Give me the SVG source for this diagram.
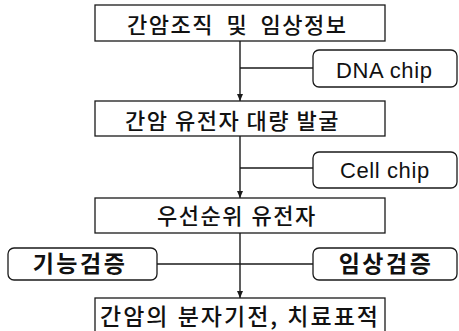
<svg xmlns="http://www.w3.org/2000/svg" width="459" height="331" viewBox="0 0 459 331">
<style>
.box{fill:#fff;stroke:#1a1a1a;stroke-width:1.3}
.rbox{fill:#fff;stroke:#1a1a1a;stroke-width:1.3}
.kt{font-family:"Noto Sans CJK KR","Noto Sans",sans-serif;font-size:22px;font-weight:500;fill:#111;letter-spacing:1.5px;word-spacing:6px}
.kb{font-family:"Noto Sans CJK KR","Noto Sans",sans-serif;font-size:23px;font-weight:bold;fill:#111;letter-spacing:2.5px;text-anchor:middle}
.et{font-family:"Liberation Sans",Arial,sans-serif;font-size:22px;fill:#111;letter-spacing:0.6px}
.ln{stroke:#1a1a1a;stroke-width:1.4;fill:none}
</style>
<defs>
<marker id="ah" markerWidth="8" markerHeight="8" refX="7" refY="4" orient="auto" markerUnits="userSpaceOnUse">
<path d="M0,1 L7,4 L0,7 Z" fill="#1a1a1a"/>
</marker>
</defs>
<g id="connectors">
<line class="ln" x1="240" y1="41" x2="240" y2="101" marker-end="url(#ah)"/>
<line class="ln" x1="240" y1="68" x2="313" y2="68"/>
<line class="ln" x1="240" y1="136" x2="240" y2="198" marker-end="url(#ah)"/>
<line class="ln" x1="240" y1="168" x2="313" y2="168"/>
<line class="ln" x1="240" y1="233" x2="240" y2="298" marker-end="url(#ah)"/>
<line class="ln" x1="157" y1="264" x2="313" y2="264"/>
</g>
<g id="n1">
<rect class="box" x="95" y="5" width="290" height="36"/>
<text class="kt" x="127" y="33">간암조직 및 임상정보</text>
</g>
<g id="n2">
<rect class="rbox" x="313" y="50" width="144" height="37" rx="6"/>
<text class="et" x="336" y="78">DNA chip</text>
</g>
<g id="n3">
<rect class="box" x="95" y="101" width="290" height="35"/>
<text class="kt" x="125" y="129" style="word-spacing:0px">간암 유전자 대량 발굴</text>
</g>
<g id="n4">
<rect class="rbox" x="313" y="152" width="144" height="36" rx="6"/>
<text class="et" x="340" y="178">Cell chip</text>
</g>
<g id="n5">
<rect class="box" x="95" y="198" width="290" height="35"/>
<text class="kt" x="157" y="224" style="word-spacing:1px">우선순위 유전자</text>
</g>
<g id="n6">
<rect class="rbox" x="8" y="248" width="149" height="32" rx="6"/>
<text class="kb" x="80" y="272">기능검증</text>
</g>
<g id="n7">
<rect class="rbox" x="313" y="248" width="144" height="32" rx="6"/>
<text class="kb" x="386" y="272">임상검증</text>
</g>
<g id="n8">
<rect class="box" x="95" y="298" width="290" height="40"/>
<text class="kt" x="100" y="325" style="font-size:23px;letter-spacing:2px;word-spacing:1px">간암의 분자기전, 치료표적</text>
</g>
</svg>
